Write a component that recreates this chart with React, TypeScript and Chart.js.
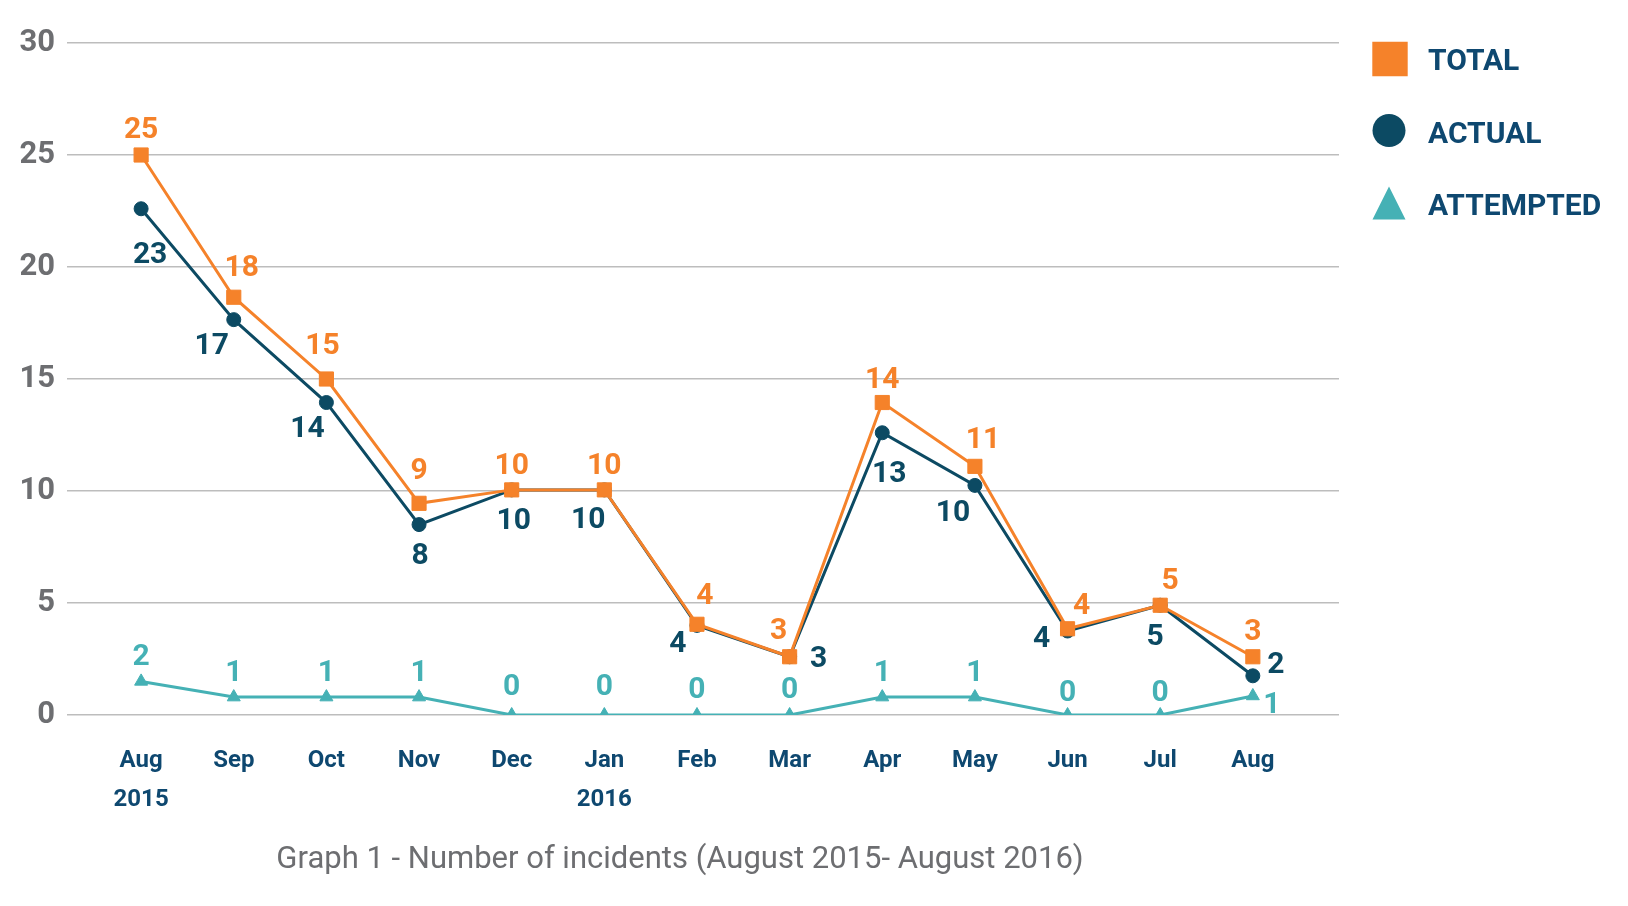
import React, { useEffect, useRef } from "react";
import { Chart, registerables } from "chart.js";

Chart.register(...registerables);

// ---------- data ----------
const monthLabels: (string | string[])[] = [
  ["Aug", "2015"], "Sep", "Oct", "Nov", "Dec", ["Jan", "2016"],
  "Feb", "Mar", "Apr", "May", "Jun", "Jul", "Aug",
];

// positions of the markers as drawn in the graphic
const totalValues = [25, 18.65, 15.0, 9.45, 10.05, 10.05, 4.05, 2.6, 13.95, 11.1, 3.85, 4.9, 2.6];
const actualValues = [22.6, 17.65, 13.95, 8.5, 10.05, 10.05, 4.0, 2.6, 12.6, 10.25, 3.75, 4.9, 1.75];
const attemptedValues = [1.5, 0.8, 0.8, 0.8, 0, 0, 0, 0, 0.8, 0.8, 0, 0, 0.85];

// numbers printed next to the markers
const totalLabels = [25, 18, 15, 9, 10, 10, 4, 3, 14, 11, 4, 5, 3];
const actualLabels = [23, 17, 14, 8, 10, 10, 4, 3, 13, 10, 4, 5, 2];
const attemptedLabels = [2, 1, 1, 1, 0, 0, 0, 0, 1, 1, 0, 0, 1];

const seriesNames = ["TOTAL", "ACTUAL", "ATTEMPTED"];
const yTicks = [0, 5, 10, 15, 20, 25, 30];
const caption = "Graph 1 - Number of incidents (August 2015- August 2016)";

// label nudges (dx, dy) relative to each marker
const totalLabelOffsets = [
  [0, -28], [8, -32], [-4, -36], [0, -35], [0, -27], [0, -27], [8, -31],
  [-11, -28], [0, -25], [8, -29], [14, -25], [10, -27], [0, -27],
];
const actualLabelOffsets = [
  [9, 44], [-22, 24], [-19, 24], [1, 29], [2, 28], [-16, 27], [-19, 16],
  [29, 0], [7, 39], [-22, 25], [-26, 5], [-5, 29], [23, -14],
];
const attemptedLabelOffsets = [
  [0, -27], [0, -27], [0, -27], [0, -27], [0, -31], [0, -31], [0, -28],
  [0, -28], [0, -27], [0, -27], [0, -25], [0, -25], [19, 6],
];

// ---------- styles ----------
const ORANGE = "#f5822a";
const NAVY = "#0c4a63";
const TEAL = "#45b1b5";
const TEXT_NAVY = "#0e4870";
const GRAY = "#6d6e71";
const FONT = "Roboto";

const pointLabelPlugin = {
  id: "pointLabels",
  afterDatasetsDraw(chart: any) {
    const ctx = chart.ctx;
    const labelSets = [totalLabels, actualLabels, attemptedLabels];
    const offsetSets = [totalLabelOffsets, actualLabelOffsets, attemptedLabelOffsets];
    ctx.save();
    ctx.font = `bold 30px ${FONT}`;
    ctx.textAlign = "center";
    ctx.textBaseline = "alphabetic";
    chart.data.datasets.forEach((ds: any, di: number) => {
      const meta = chart.getDatasetMeta(di);
      ctx.fillStyle = ds.borderColor;
      meta.data.forEach((pt: any, i: number) => {
        const [dx, dy] = offsetSets[di][i];
        ctx.fillText(String(labelSets[di][i]), pt.x + dx, pt.y + dy + 10.7);
      });
    });
    ctx.restore();
  },
};

const legendPlugin = {
  id: "sideLegend",
  afterDraw(chart: any) {
    const ctx = chart.ctx;
    const cx = 1390;
    const shapeY = [59, 130.5, 203];
    const textY = [70, 142.5, 215];
    ctx.save();
    chart.data.datasets.forEach((ds: any, i: number) => {
      ctx.fillStyle = ds.borderColor;
      const cy = shapeY[i];
      ctx.beginPath();
      if (ds.pointStyle === "rect") {
        ctx.rect(cx - 17.7, cy - 17.2, 35.4, 34.4);
      } else if (ds.pointStyle === "circle") {
        ctx.arc(cx - 1, cy, 16.5, 0, Math.PI * 2);
      } else {
        ctx.moveTo(cx - 1, cy - 16.5);
        ctx.lineTo(cx + 15.5, cy + 16.5);
        ctx.lineTo(cx - 17.5, cy + 16.5);
        ctx.closePath();
      }
      ctx.fill();
      ctx.fillStyle = TEXT_NAVY;
      ctx.font = `bold 30px ${FONT}`;
      ctx.textAlign = "left";
      ctx.textBaseline = "alphabetic";
      ctx.fillText(ds.label, 1428, textY[i]);
    });
    ctx.fillStyle = GRAY;
    ctx.font = `31px ${FONT}`;
    ctx.textAlign = "center";
    ctx.fillText(caption, 680, 868);
    ctx.restore();
  },
};

export default function App() {
  const canvasRef = useRef<HTMLCanvasElement | null>(null);

  useEffect(() => {
    document.body.style.margin = "0";
    document.body.style.overflow = "hidden";
    const canvas = canvasRef.current;
    if (!canvas) return;

    const mk = (vals: number[]) => vals.map((v, i) => ({ x: i, y: v }));

    const chart = new Chart(canvas, {
      type: "line",
      data: {
        datasets: [
          {
            label: seriesNames[0],
            data: mk(totalValues),
            borderColor: ORANGE,
            backgroundColor: ORANGE,
            pointBackgroundColor: ORANGE,
            pointBorderColor: ORANGE,
            pointStyle: "rect",
            pointRadius: 10,
            pointBorderWidth: 1,
            borderWidth: 3,
            tension: 0,
          },
          {
            label: seriesNames[1],
            data: mk(actualValues),
            borderColor: NAVY,
            backgroundColor: NAVY,
            pointBackgroundColor: NAVY,
            pointBorderColor: NAVY,
            pointStyle: "circle",
            pointRadius: 7,
            pointBorderWidth: 1,
            borderWidth: 3,
            tension: 0,
          },
          {
            label: seriesNames[2],
            data: mk(attemptedValues),
            borderColor: TEAL,
            backgroundColor: TEAL,
            pointBackgroundColor: TEAL,
            pointBorderColor: TEAL,
            pointStyle: "triangle",
            pointRadius: 7.5,
            pointBorderWidth: 1,
            borderWidth: 3,
            tension: 0,
          },
        ],
      } as any,
      options: {
        animation: false,
        responsive: true,
        maintainAspectRatio: false,
        layout: { padding: { left: 0, top: 43, right: 289, bottom: 81 } },
        plugins: {
          legend: { display: false },
          tooltip: { enabled: false },
        },
        scales: {
          x: {
            type: "linear",
            min: -0.8,
            max: 12.93,
            grid: { display: false, drawTicks: false },
            border: { display: false },
            afterBuildTicks: (axis: any) => {
              axis.ticks = monthLabels.map((_, i) => ({ value: i }));
            },
            afterFit: (axis: any) => {
              axis.height = 110;
            },
            ticks: {
              autoSkip: false,
              maxRotation: 0,
              minRotation: 0,
              padding: 27,
              color: TEXT_NAVY,
              font: { family: FONT, size: 24, weight: "bold", lineHeight: 1.62 },
              callback: (v: any) => monthLabels[v as number] as any,
            },
          },
          y: {
            min: 0,
            max: 30,
            afterBuildTicks: (axis: any) => {
              axis.ticks = yTicks.map((v) => ({ value: v }));
            },
            afterFit: (axis: any) => {
              axis.width = 67;
            },
            grid: { color: "#bdbdbd", lineWidth: 1.5, drawTicks: false },
            border: { display: false },
            ticks: {
              padding: 12,
              color: GRAY,
              font: { family: FONT, size: 31, weight: "bold" },
            },
          },
        },
      } as any,
      plugins: [pointLabelPlugin, legendPlugin],
    });

    return () => chart.destroy();
  }, []);

  return (
    <div style={{ width: 1628, height: 906, position: "relative", background: "#fff" }}>
      <canvas ref={canvasRef} />
    </div>
  );
}
